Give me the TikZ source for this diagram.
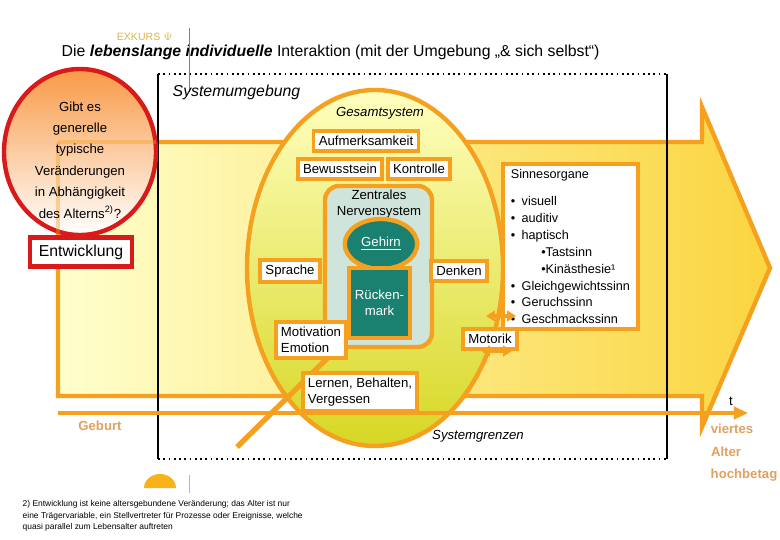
\documentclass[tikz,border=0pt]{standalone}
\usepackage{fontspec}
\setmainfont{Liberation Sans}
\usepackage{tikz}
\usetikzlibrary{arrows.meta, shapes.geometric}
\definecolor{orng}{HTML}{F5A01E}
\definecolor{redline}{HTML}{D81A1A}
\definecolor{teal}{HTML}{1A8070}
\definecolor{paleteal}{HTML}{CFE5DC}
\definecolor{gold}{HTML}{D9B84A}
\definecolor{brownish}{HTML}{E0A060}
\tikzset{
  wbox/.style={draw=orng, line width=2.2pt, fill=white, inner sep=3pt, font=\fontsize{7.5}{9}\selectfont},
  lbl/.style={font=\fontsize{7.5}{9}\selectfont},
  ital/.style={font=\fontsize{7.5}{9}\selectfont\itshape},
  age/.style={text=brownish, font=\fontsize{7.5}{9}\selectfont\bfseries}
}
\begin{document}
\begin{tikzpicture}[x=0.02cm, y=-0.02cm, line width=1pt]
    \useasboundingbox (0,0) rectangle (780,540);
    % title
    \node[text=gold, font=\fontsize{6}{7}\selectfont] (exkurs) at (145,37) {EXKURS $\Psi$};
    \node[anchor=west, font=\fontsize{9}{11}\selectfont] (title) at (55,52)
        {Die \textbf{\textit{lebenslange individuelle}} Interaktion (mit der Umgebung „\& sich selbst“)};
    \draw[gray, line width=0.5pt] (189,28) -- (189,92);

    % big arrow with gradient
    \shade[left color=yellow!20, right color=orng!55!yellow!80]
        (58,142) -- (702,142) -- (702,107) -- (770,268) -- (702,427) -- (702,396) -- (58,396) -- cycle;
    \draw[orng, line width=2.5pt]
        (58,142) -- (702,142) -- (702,107) -- (770,268) -- (702,427) -- (702,396) -- (58,396) -- cycle;

    % system box
    \draw[dotted, line width=1pt] (158,74) -- (667,74);
    \draw[dotted, line width=1pt] (158,459) -- (667,459);
    \draw[line width=1.3pt] (158,74) -- (158,459);
    \draw[line width=1.3pt] (667,74) -- (667,459);
    \node[anchor=west, font=\fontsize{9}{11}\selectfont\itshape] (umgebung) at (166,92) {Systemumgebung};

    % overall system
    \shade[top color=yellow!25, bottom color=olive!45!yellow!70] (375,268) ellipse (128 and 178);
    \draw[orng, line width=2.5pt] (375,268) ellipse (128 and 178);
    \node[ital] (gesamt) at (380,113) {Gesamtsystem};

    % time axis
    \coordinate (tstart) at (58,413);
    \coordinate (tend) at (748,413);
    \draw[orng, line width=2.5pt, -{Triangle[length=8pt,width=7pt]}] (tstart) -- (tend);
    \node[lbl] (tlbl) at (731,401) {t};
    \node[age] (geburt) at (100,426) {Geburt};
    \node[age] (viertes) at (732,429) {viertes};
    \node[age] (alter) at (726,452) {Alter};
    \node[age] (hoch) at (744,475) {hochbetag};
    \node[ital] (grenzen) at (478,436) {Systemgrenzen};

    % diagonal
    \draw[orng, line width=3pt] (237,447) -- (348,338);

    % central nervous system
    \draw[orng, line width=2.5pt, fill=paleteal, rounded corners=8pt] (325,186) rectangle (432,347);
    \node[lbl, align=center] (zns) at (379,204) {Zentrales\\Nervensystem};
    \node[draw=orng, line width=2.5pt, fill=teal, ellipse, minimum width=60*0.02cm, minimum height=50*0.02cm,
          text=white, font=\fontsize{7.5}{9}\selectfont] (gehirn) at (381,244) {\underline{Gehirn}};
    \node[draw=orng, line width=2.5pt, fill=teal, minimum width=61*0.02cm, minimum height=70*0.02cm,
          text=white, align=center, font=\fontsize{7.5}{9}\selectfont] (ruecken) at (379.5,303) {Rücken-\\mark};

    % boxes
    \node[wbox] (aufm) at (366,141) {Aufmerksamkeit};
    \node[wbox] (bew) at (340,169) {Bewusstsein};
    \node[wbox] (kontr) at (419,169) {Kontrolle};
    \node[wbox] (sprache) at (290,271) {Sprache};
    \node[wbox] (denken) at (459,271) {Denken};
    \node[wbox, align=left] (motiv) at (311,340) {Motivation\\Emotion};
    \node[wbox, align=left] (lernen) at (360,392) {Lernen, Behalten,\\Vergessen};
    \node[wbox, align=left, anchor=north west, minimum width=135*0.02cm, minimum height=155*0.02cm,
          font=\fontsize{7.2}{9.6}\selectfont] (sinne) at (501,162)
        {Sinnesorgane\\[6pt]
         \textbullet\enspace visuell\\
         \textbullet\enspace auditiv\\
         \textbullet\enspace haptisch\\
         \hspace{2.4em}\textbullet Tastsinn\\
         \hspace{2.4em}\textbullet Kinästhesie¹\\
         \textbullet\enspace Gleichgewichtssinn\\
         \textbullet\enspace Geruchssinn\\
         \textbullet\enspace Geschmackssinn};
    \node[wbox] (motorik) at (490,339) {Motorik};
    \coordinate (s1) at (486,316);
    \coordinate (s2) at (516,316);
    \coordinate (m1) at (481,351);
    \coordinate (m2) at (512,351);
    \draw[orng, line width=2pt, {Triangle[length=5pt,width=6pt]}-{Triangle[length=5pt,width=6pt]}] (s1) -- (s2);
    \draw[orng, line width=2pt, {Triangle[length=5pt,width=6pt]}-{Triangle[length=5pt,width=6pt]}] (m1) -- (m2);

    % development question
    \shade[top color=orng!80!red!80, bottom color=white] (80,152) ellipse (76 and 83);
    \draw[redline, line width=2.5pt] (80,152) ellipse (76 and 83);
    \draw[orng, opacity=0.4, line width=2.5pt] (58,142) -- (156,142);
    \draw[orng, opacity=0.4, line width=2.5pt] (58,142) -- (58,235);
    \node[lbl, align=center, font=\fontsize{7.5}{12.2}\selectfont] (frage) at (80,160)
        {Gibt es\\generelle\\typische\\Veränderungen\\in Abhängigkeit\\des Alterns\textsuperscript{2)}?};
    \node[draw=redline, line width=2.5pt, fill=white, minimum width=102*0.02cm, minimum height=29*0.02cm,
          font=\fontsize{9}{11}\selectfont] (entw) at (81,252) {Entwicklung};

    % footnote
    \fill[orng!80!yellow] (144,488) arc[start angle=180, end angle=0, x radius=16, y radius=-14] -- cycle;
    \draw[gold, line width=0.5pt] (189,475) -- (189,493);
    \node[anchor=north west, align=left, font=\fontsize{4.8}{6.5}\selectfont] (fn) at (16,494)
        {2) Entwicklung ist keine altersgebundene Veränderung; das Alter ist nur\\
         eine Trägervariable, ein Stellvertreter für Prozesse oder Ereignisse, welche\\
         quasi parallel zum Lebensalter auftreten};
\end{tikzpicture}
\end{document}
